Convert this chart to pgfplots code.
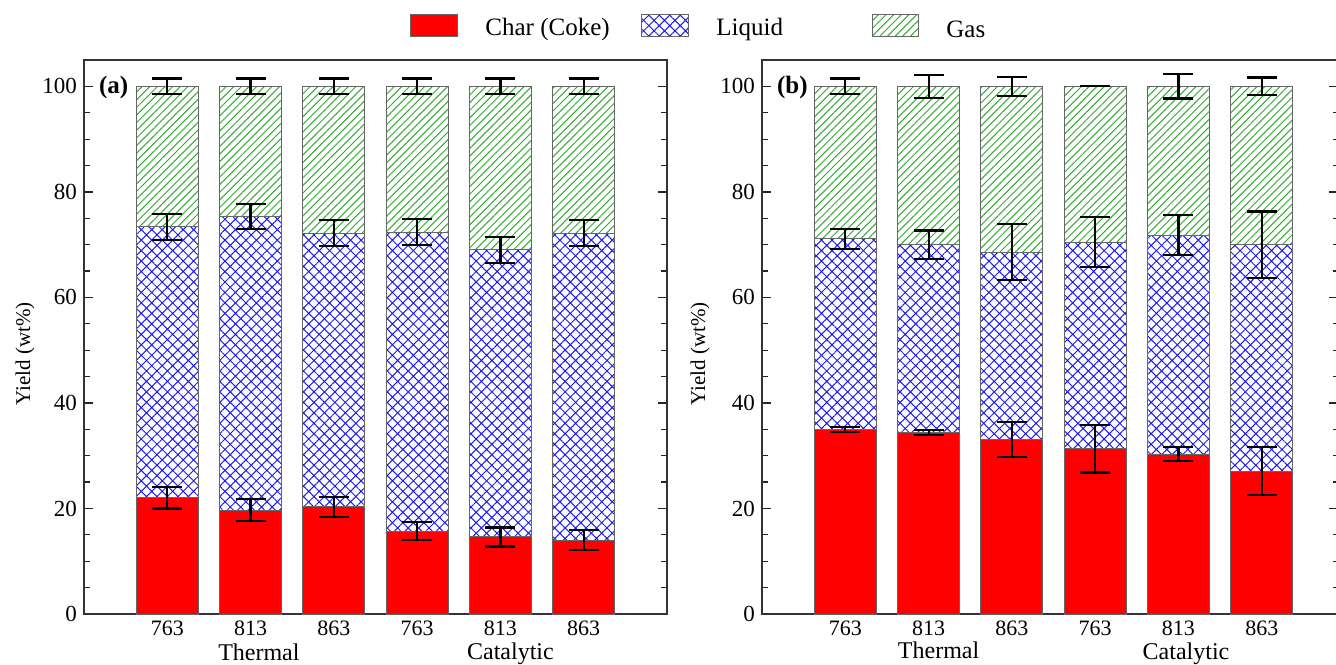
\documentclass[border=0pt]{standalone}
\usepackage{fontspec}
\setmainfont{Liberation Serif}
\usepackage{pgfplots}
\usepackage{pgfplotstable}
\pgfplotsset{compat=1.18}
\usetikzlibrary{patterns.meta}

\definecolor{charred}{RGB}{255,0,0}
\definecolor{liqblue}{RGB}{30,30,235}
\definecolor{gasgreen}{RGB}{50,170,50}

% Panel (a): x, char, liquid segment, gas segment
\pgfplotstableread{
x char liq gas
0 22.0 51.4 26.6
1 19.7 55.6 24.7
2 20.3 51.9 27.8
3 15.7 56.7 27.6
4 14.6 54.4 31.0
5 14.0 58.2 27.8
}\dataA
% Panel (a) error bars: x, top of segment, error
\pgfplotstableread{
x y e
0 22.0 2.0
1 19.7 2.05
2 20.3 1.95
3 15.7 1.75
4 14.6 1.8
5 14.0 1.9
0 73.4 2.45
1 75.3 2.35
2 72.2 2.4
3 72.4 2.4
4 69.0 2.5
5 72.2 2.4
0 100 1.5
1 100 1.5
2 100 1.5
3 100 1.5
4 100 1.5
5 100 1.5
}\errA

% Panel (b)
\pgfplotstableread{
x char liq gas
0 35.0 36.1 28.9
1 34.4 35.6 30.0
2 33.1 35.5 31.4
3 31.3 39.2 29.5
4 30.3 41.5 28.2
5 27.1 42.9 30.0
}\dataB
\pgfplotstableread{
x y e
0 35.0 0.5
1 34.4 0.45
2 33.1 3.3
3 31.3 4.5
4 30.3 1.3
5 27.1 4.5
0 71.1 1.9
1 70.0 2.7
2 68.6 5.3
3 70.5 4.7
4 71.8 3.8
5 70.0 6.3
0 100 1.5
1 100 2.2
2 100 1.85
3 100 0
4 100 2.3
5 100 1.7
}\errB

\pgfplotsset{
  baseax/.style={
    scale only axis, anchor=south west,
    height=277pt, ymin=0, ymax=105, xmin=-1,
    enlargelimits=false, clip=false,
  },
  barax/.style={
    baseax,
    ybar stacked, bar width=0.745,
    axis line style={black!80, line width=0.6pt},
    ytick={0,20,...,100}, minor y tick num=3,
    tick align=inside,
    major tick length=4.5pt, minor tick length=2.8pt,
    ytick style={black!85, line width=0.6pt},
    xtick={0,...,5}, xtick style={draw=none},
    /pgf/number format/assume math mode=true,
    yticklabel style={font=\fontsize{11.5}{13}\selectfont},
    xticklabel style={font=\fontsize{11}{13}\selectfont},
    ylabel={Yield (wt\%)},
    ylabel style={font=\fontsize{10.5}{12}\selectfont, anchor=center},
  },
  errax/.style={baseax, hide axis},
  charst/.style={fill=charred, draw=black!60, line width=0.5pt},
  liqst/.style={pattern={Hatch[angle=45,distance=3.7pt,line width=0.5pt]}, pattern color=liqblue, draw=black!60, line width=0.5pt},
  gasst/.style={pattern={Lines[angle=45,distance=2.7pt,line width=0.5pt]}, pattern color=gasgreen, draw=black!60, line width=0.5pt},
  errst/.style={draw=none, mark=none,
    error bars/.cd, y dir=both, y explicit,
    error bar style={draw=black, line width=1.1pt},
    error mark options={rotate=90, mark size=7.5pt, draw=black, line width=1.1pt}},
}

\begin{document}
\begin{tikzpicture}
\path[use as bounding box] (0,0) rectangle (668pt,332pt);

% ---------- Panel (a)
\begin{axis}[barax, at={(42pt,25pt)}, width=291.5pt, xmax=6,
  xticklabels={763,813,863,763,813,863},
  ylabel style={at={(axis description cs:-0.101,0.47)}}]
\addplot[charst] table[x=x,y=char]{\dataA};
\addplot[liqst] table[x=x,y=liq]{\dataA};
\addplot[gasst] table[x=x,y=gas]{\dataA};
\node[anchor=west, font=\bfseries\fontsize{12.5}{14}\selectfont, xshift=4pt] at (axis cs:-1,99.7) {(a)};
\node[font=\fontsize{12}{14}\selectfont, yshift=-19pt] at (axis cs:1.1,0) {Thermal};
\node[font=\fontsize{12}{14}\selectfont, yshift=-20pt] at (axis cs:4.12,0) {Catalytic};
\end{axis}
\begin{axis}[errax, at={(42pt,25pt)}, width=291.5pt, xmax=6]
\addplot[errst] table[x=x,y=y,y error=e]{\errA};
\end{axis}

% ---------- Panel (b)
\begin{axis}[barax, at={(381pt,25pt)}, width=288.2pt, xmax=5.92,
  xticklabels={\raisebox{-0.5pt}{763},\raisebox{-1.5pt}{813},\raisebox{1.5pt}{863},\raisebox{1.5pt}{763},\raisebox{0.5pt}{813},\raisebox{-1.5pt}{863}},
  ylabel style={at={(axis description cs:-0.1076,0.47)}}]
\addplot[charst] table[x=x,y=char]{\dataB};
\addplot[liqst] table[x=x,y=liq]{\dataB};
\addplot[gasst] table[x=x,y=gas]{\dataB};
\node[anchor=west, font=\bfseries\fontsize{12.5}{14}\selectfont, xshift=4pt] at (axis cs:-1,99.7) {(b)};
\node[font=\fontsize{12}{14}\selectfont, yshift=-18pt] at (axis cs:1.12,0) {Thermal};
\node[font=\fontsize{12}{14}\selectfont, yshift=-20pt] at (axis cs:4.09,0) {Catalytic};
\end{axis}
\begin{axis}[errax, at={(381pt,25pt)}, width=288.2pt, xmax=5.92]
\addplot[errst] table[x=x,y=y,y error=e]{\errB};
\end{axis}

% ---------- Legend
\draw[black!60, line width=0.5pt, fill=charred] (205pt,313.5pt) rectangle (228.5pt,324.5pt);
\node[anchor=west, inner sep=0pt, font=\fontsize{12.5}{14}\selectfont] at (242.5pt,317.3pt) {Char (Coke)};
\draw[black!60, line width=0.5pt, pattern={Hatch[angle=45,distance=3.7pt,line width=0.5pt]}, pattern color=liqblue] (320.5pt,313.5pt) rectangle (344pt,324.5pt);
\node[anchor=west, inner sep=0pt, font=\fontsize{12.5}{14}\selectfont] at (358pt,317.3pt) {Liquid};
\draw[black!60, line width=0.5pt, pattern={Lines[angle=45,distance=2.7pt,line width=0.5pt]}, pattern color=gasgreen] (436pt,313.5pt) rectangle (459pt,324.5pt);
\node[anchor=west, inner sep=0pt, font=\fontsize{12.5}{14}\selectfont] at (473pt,317.3pt) {Gas};
\end{tikzpicture}
\end{document}
